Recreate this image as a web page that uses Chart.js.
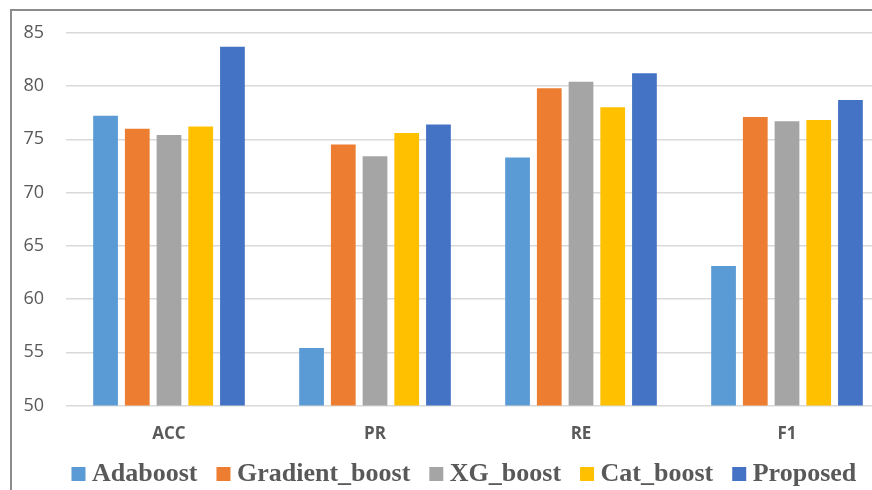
<!DOCTYPE html>
<html>
<head>
<meta charset="utf-8">
<script src="https://cdn.jsdelivr.net/npm/chart.js@4"></script>
<style>
  html, body { margin: 0; padding: 0; background: #fff; }
  #wrap { position: relative; width: 872px; height: 490px; overflow: hidden; }
  #frame { position: absolute; left: 10px; top: 9px; width: 900px; height: 500px;
           border-top: 2px solid #8c8c8c; border-left: 2px solid #8c8c8c; }
  canvas { position: absolute; left: 0; top: 0; }
</style>
</head>
<body>
<div id="wrap">
  <canvas id="grafico" width="900" height="490"></canvas>
  <div id="frame"></div>
</div>
<script>
// ---- DATOS ----
const metricas = ["ACC", "PR", "RE", "F1"];
const adaboost = [77.2, 55.4, 73.3, 63.1];
const gradientBoost = [76.0, 74.5, 79.8, 77.1];
const xgBoost = [75.4, 73.4, 80.4, 76.7];
const catBoost = [76.2, 75.6, 78.0, 76.8];
const proposed = [83.7, 76.4, 81.2, 78.7];
const yTicks = [50, 55, 60, 65, 70, 75, 80, 85];

const gris = "#595959";

// mover la leyenda a su sitio
const legendShift = {
  id: "legendShift",
  afterLayout(chart) {
    const lg = chart.legend;
    lg.left += 40.5;
    lg.right += 40.5;
    lg.top -= 10;
    lg.bottom -= 10;
  }
};

const ctx = document.getElementById("grafico").getContext("2d");
new Chart(ctx, {
  type: "bar",
  data: {
    labels: metricas,
    datasets: [
      { label: "Adaboost", data: adaboost, backgroundColor: "#5B9BD5" },
      { label: "Gradient_boost", data: gradientBoost, backgroundColor: "#ED7D31" },
      { label: "XG_boost", data: xgBoost, backgroundColor: "#A5A5A5" },
      { label: "Cat_boost", data: catBoost, backgroundColor: "#FFC000" },
      { label: "Proposed", data: proposed, backgroundColor: "#4472C4" }
    ]
  },
  options: {
    responsive: false,
    animation: false,
    devicePixelRatio: 1,
    categoryPercentage: 0.77,
    barPercentage: 0.78,
    layout: { padding: { left: 12, right: 10, top: 32.5, bottom: -17 } },
    scales: {
      x: {
        grid: { display: false, drawTicks: false },
        border: { display: false },
        ticks: { color: gris, padding: 18, font: { family: "Open Sans", size: 17, weight: "bold" } },
        afterFit(scale) { scale.height = 40; }
      },
      y: {
        min: 50,
        max: 85,
        afterBuildTicks(scale) { scale.ticks = yTicks.map(v => ({ value: v })); },
        grid: { color: "#d9d9d9", lineWidth: 1.5, drawTicks: false },
        border: { display: false },
        ticks: { color: gris, padding: 22, font: { family: "Open Sans", size: 18 } },
        afterFit(scale) { scale.width = 54; }
      }
    },
    plugins: {
      tooltip: { enabled: false },
      legend: {
        position: "bottom",
        align: "start",
        labels: {
          color: gris,
          usePointStyle: true,
          pointStyle: "rect",
          boxWidth: 1,
          boxHeight: 14,
          padding: 25.5,
          font: { family: "Liberation Serif", size: 26, weight: "bold" }
        }
      }
    }
  },
  plugins: [legendShift]
});
</script>
</body>
</html>
